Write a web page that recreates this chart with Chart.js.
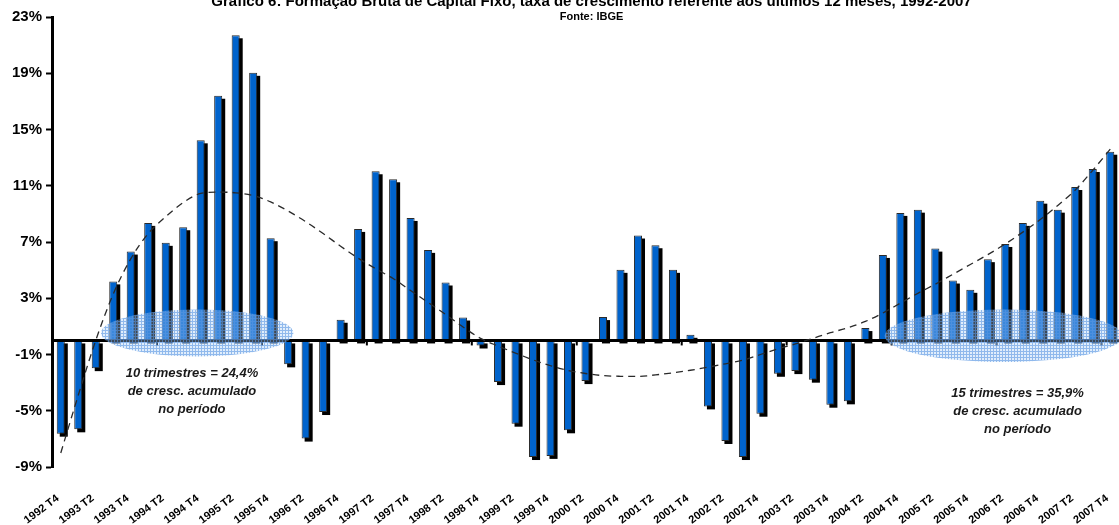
<!DOCTYPE html>
<html>
<head>
<meta charset="utf-8">
<script src="https://cdn.jsdelivr.net/npm/chart.js@4/dist/chart.umd.min.js"></script>
<style>
  html, body { margin: 0; padding: 0; background: #fff; }
  #wrap { width: 1119px; height: 525px; }
</style>
</head>
<body>
<div id="wrap"><canvas id="fbcf" width="1119" height="525"></canvas></div>
<script>
// ============================
// DATA
// ============================
const quarters = [
  "1992 T4",
  "1993 T1","1993 T2","1993 T3","1993 T4",
  "1994 T1","1994 T2","1994 T3","1994 T4",
  "1995 T1","1995 T2","1995 T3","1995 T4",
  "1996 T1","1996 T2","1996 T3","1996 T4",
  "1997 T1","1997 T2","1997 T3","1997 T4",
  "1998 T1","1998 T2","1998 T3","1998 T4",
  "1999 T1","1999 T2","1999 T3","1999 T4",
  "2000 T1","2000 T2","2000 T3","2000 T4",
  "2001 T1","2001 T2","2001 T3","2001 T4",
  "2002 T1","2002 T2","2002 T3","2002 T4",
  "2003 T1","2003 T2","2003 T3","2003 T4",
  "2004 T1","2004 T2","2004 T3","2004 T4",
  "2005 T1","2005 T2","2005 T3","2005 T4",
  "2006 T1","2006 T2","2006 T3","2006 T4",
  "2007 T1","2007 T2","2007 T3","2007 T4"
];

// taxa acumulada em 12 meses (%)
const growth = [
  -6.63,
  -6.32, -1.97, 4.20, 6.32,
  8.36, 6.94, 8.05, 14.23,
  17.40, 21.70, 19.03, 7.27,
  -1.70, -6.98, -5.09, 1.47,
  7.93, 12.03, 11.46, 8.71,
  6.44, 4.12, 1.63, -0.36,
  -2.96, -5.92, -8.29, -8.21,
  -6.39, -2.89, 1.66, 5.02,
  7.46, 6.77, 5.02, 0.40,
  -4.69, -7.15, -8.29, -5.21,
  -2.37, -2.18, -2.79, -4.57,
  -4.33, 0.88, 6.08, 9.07,
  9.30, 6.53, 4.26, 3.60,
  5.78, 6.86, 8.36, 9.94,
  9.30, 10.91, 12.19, 13.42
];

// linha de tendência
const trend = [
  -8.0,
  -3.9, 0.0, 3.3, 5.8,
  7.6, 8.8, 9.8, 10.45,
  10.55, 10.5, 10.3, 9.85,
  9.2, 8.45, 7.6, 6.7,
  5.85, 5.1, 4.4, 3.55,
  2.7, 1.85, 0.95, 0.15,
  -0.4, -0.9, -1.38, -1.8,
  -2.13, -2.35, -2.5, -2.55,
  -2.56, -2.45, -2.3, -2.12,
  -1.9, -1.66, -1.4, -1.0,
  -0.6, -0.25, 0.15, 0.55,
  0.9, 1.35, 1.95, 2.65,
  3.35, 4.0, 4.7, 5.4,
  6.1, 6.86, 7.7, 8.6,
  9.6, 10.7, 12.1, 13.6
];

const yTicks = [-9, -5, -1, 3, 7, 11, 15, 19, 23];

const titleText = "Gráfico 6: Formação Bruta de Capital Fixo, taxa de crescimento referente aos últimos 12 meses, 1992-2007";
const sourceText = "Fonte: IBGE";

// períodos destacados: [índice central, meia largura, valor central, meia altura]
const highlights = [
  { cx: 7.8, rx: 5.5, cy: 0.53, ry: 1.67,
    note: ["10 trimestres = 24,4%", "de cresc. acumulado", "no período"], nx: 7.5, ny: -2.35 },
  { cx: 53.9, rx: 6.8, cy: 0.33, ry: 1.87,
    note: ["15 trimestres = 35,9%", "de cresc. acumulado", "no período"], nx: 54.7, ny: -3.75 }
];

const FONT = "'Liberation Sans', Arial, sans-serif";

// ============================
// HATCH PATTERN
// ============================
function hatch(ctx){
  const c = document.createElement("canvas");
  c.width = 3; c.height = 3;
  const p = c.getContext("2d");
  p.fillStyle = "rgba(170,205,245,0.35)";
  p.fillRect(0,0,3,3);
  p.fillStyle = "rgba(90,150,225,0.6)";
  p.fillRect(0,0,3,1);
  p.fillRect(0,1,1,2);
  return ctx.createPattern(c, "repeat");
}

// ============================
// PLUGINS
// ============================
const decor = {
  id: "decor",
  beforeDatasetDraw(chart, args){
    if(args.meta.type !== "bar") return;
    const ctx = chart.ctx;
    ctx.save();
    ctx.fillStyle = "#000";
    args.meta.data.forEach(bar=>{
      const p = bar.getProps(["x","y","base","width"], true);
      const top = Math.min(p.y, p.base);
      const h = Math.abs(p.base - p.y);
      ctx.fillRect(p.x - p.width/2 + 3, top + 3, p.width, h);
    });
    ctx.restore();
  },
  afterDatasetDraw(chart, args){
    if(args.meta.type !== "bar") return;
    const ctx = chart.ctx;
    const xs = chart.scales.x, ys = chart.scales.y;
    const area = chart.chartArea;
    const y0 = ys.getPixelForValue(0);

    ctx.save();
    // linha do zero
    ctx.strokeStyle = "#000";
    ctx.lineWidth = 3;
    ctx.beginPath();
    ctx.moveTo(area.left, y0);
    ctx.lineTo(area.right, y0);
    ctx.stroke();

    // pequenas marcas no eixo
    ctx.lineWidth = 2;
    for(let k = 5.5; k < quarters.length; k += 6){
      const px = xs.getPixelForValue(k);
      ctx.beginPath();
      ctx.moveTo(px, y0);
      ctx.lineTo(px, y0 + 5);
      ctx.stroke();
    }

    // elipses
    const pat = hatch(ctx);
    highlights.forEach(h=>{
      const cx = xs.getPixelForValue(h.cx);
      const rx = Math.abs(xs.getPixelForValue(h.cx + h.rx) - cx);
      const cy = ys.getPixelForValue(h.cy);
      const ry = Math.abs(ys.getPixelForValue(h.cy + h.ry) - cy);
      ctx.save();
      ctx.beginPath();
      ctx.rect(area.left, 0, area.right - area.left, chart.height);
      ctx.clip();
      ctx.beginPath();
      ctx.ellipse(cx, cy, rx, ry, 0, 0, Math.PI*2);
      ctx.fillStyle = pat;
      ctx.fill();
      ctx.restore();
    });
    ctx.restore();
  },
  afterDraw(chart){
    const ctx = chart.ctx;
    const xs = chart.scales.x, ys = chart.scales.y;
    const area = chart.chartArea;
    ctx.save();
    ctx.fillStyle = "#000";
    ctx.textAlign = "center";
    ctx.textBaseline = "alphabetic";
    const mid = (area.left + area.right)/2 + 6;
    ctx.font = "bold 15px " + FONT;
    ctx.fillText(titleText, mid, 6);
    ctx.font = "bold 11px " + FONT;
    ctx.fillText(sourceText, mid, 20);

    ctx.fillStyle = "#1a1a1a";
    ctx.textBaseline = "middle";
    ctx.font = "italic bold 13px " + FONT;
    highlights.forEach(h=>{
      const x = xs.getPixelForValue(h.nx);
      const y = ys.getPixelForValue(h.ny);
      h.note.forEach((line,i)=>ctx.fillText(line, x, y + i*18));
    });
    ctx.restore();
  }
};

// ============================
// CHART
// ============================
new Chart(document.getElementById("fbcf"), {
  data: {
    labels: quarters,
    datasets: [
      {
        type: "line",
        data: trend,
        borderColor: "#2a2a2a",
        borderWidth: 1.3,
        borderDash: [7,5],
        pointRadius: 0,
        cubicInterpolationMode: "monotone",
        order: 0
      },
      {
        type: "bar",
        data: growth,
        backgroundColor: "#0063CC",
        borderColor: "#2b2b2b",
        borderWidth: 1,
        barPercentage: 0.46,
        categoryPercentage: 1,
        order: 1
      }
    ]
  },
  options: {
    responsive: false,
    animation: false,
    devicePixelRatio: 1,
    layout: { padding: { left: 8, right: 0, top: 17, bottom: 0 } },
    plugins: {
      legend: { display: false },
      tooltip: { enabled: false }
    },
    scales: {
      x: {
        offset: true,
        grid: { display: false, drawTicks: false },
        border: { display: false },
        afterFit: axis => {
          axis.height = 58;
          axis.paddingLeft = 0;
          axis.paddingRight = 0;
        },
        ticks: {
          autoSkip: false,
          minRotation: 37,
          maxRotation: 37,
          padding: 25,
          labelOffset: -3,
          color: "#000",
          font: { family: FONT, size: 11, weight: "bold" },
          callback: (v, i) => i % 2 === 0 ? quarters[i] : ""
        }
      },
      y: {
        min: -9,
        max: 23,
        afterBuildTicks: axis => { axis.ticks = yTicks.map(v => ({ value: v })); },
        grid: {
          drawOnChartArea: false,
          tickLength: 6,
          tickWidth: 2,
          tickColor: "#000"
        },
        border: { display: true, color: "#000", width: 3 },
        ticks: {
          padding: 4,
          color: "#000",
          font: { family: FONT, size: 15, weight: "bold" },
          callback: v => v + "%"
        }
      }
    }
  },
  plugins: [decor]
});
</script>
</body>
</html>
